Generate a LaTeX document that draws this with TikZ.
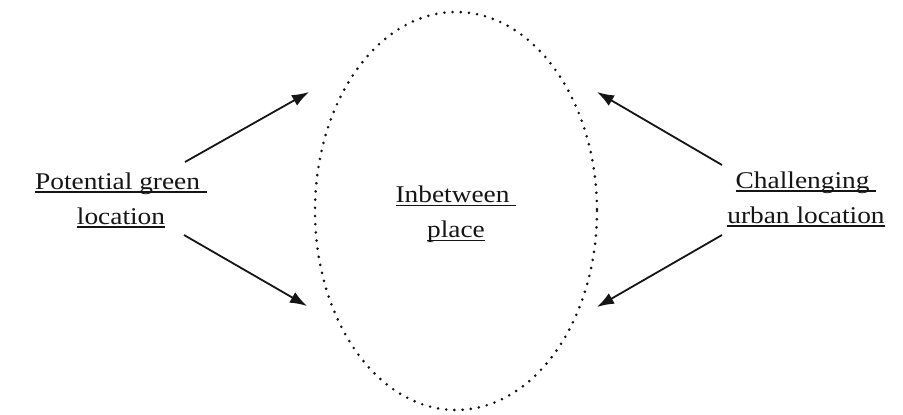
\documentclass[tikz,border=0pt]{standalone}
\usepackage{fontspec}
\setmainfont{Liberation Serif}[FakeStretch=1.14]
\usetikzlibrary{arrows.meta}
\newcommand\ulx[1]{\setbox0\hbox{#1}\rlap{\rule[-3.5pt]{\wd0}{1.2pt}}\box0}
\definecolor{ink}{HTML}{151515}
\tikzset{
  lbl/.style={align=center, inner sep=0pt, text=ink, font=\fontsize{24}{35}\selectfont},
  arr/.style={draw=ink, line width=1.8pt, -{Latex[length=17pt,width=12pt]}},
  dotring/.style={draw=ink, line width=2.9pt, line cap=round, dash pattern=on 0pt off 8.2pt}
}
\begin{document}
\begin{tikzpicture}[x=1pt,y=-1pt]
\useasboundingbox (0,0) rectangle (903,415);
\draw[dotring] (456,211) ellipse [x radius=141, y radius=199];
\node[lbl] (green) at (121,200) {\ulx{Potential green\ }\\\ulx{location}};
\node[lbl] (mid) at (456,214) {\ulx{Inbetween\ }\\\ulx{place}};
\node[lbl] (urban) at (806,199) {\ulx{Challenging\ }\\\ulx{urban location}};
\coordinate (gs1) at (185,162);
\coordinate (ge1) at (309,92);
\coordinate (gs2) at (184,235);
\coordinate (ge2) at (307,306);
\coordinate (us1) at (722,165);
\coordinate (ue1) at (597,92);
\coordinate (us2) at (722,235);
\coordinate (ue2) at (597,307);
\draw[arr] (gs1) -- (ge1);
\draw[arr] (gs2) -- (ge2);
\draw[arr] (us1) -- (ue1);
\draw[arr] (us2) -- (ue2);
\end{tikzpicture}
\end{document}
